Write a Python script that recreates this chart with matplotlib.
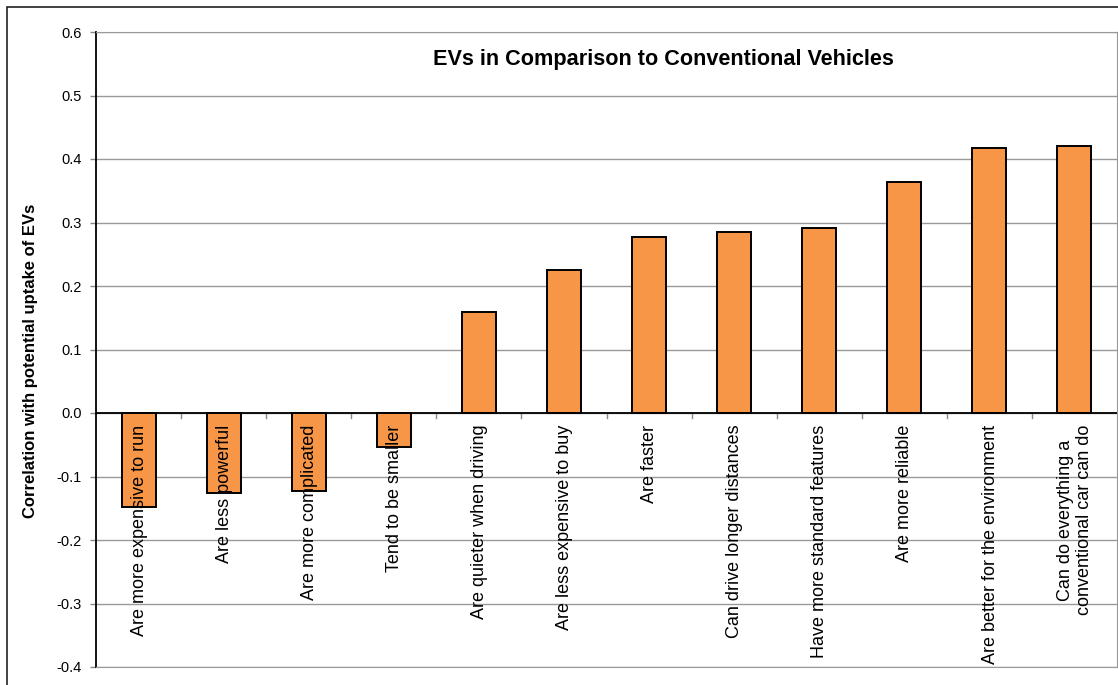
import matplotlib.pyplot as plt
from matplotlib.patches import Rectangle

plt.rcParams['font.family'] = ['Liberation Sans', 'DejaVu Sans']

# Correlation of each EV attribute with potential uptake
attributes = [
    'Are more expensive to run',
    'Are less powerful',
    'Are more complicated',
    'Tend to be smaller',
    'Are quieter when driving',
    'Are less expensive to buy',
    'Are faster',
    'Can drive longer distances',
    'Have more standard features',
    'Are more reliable',
    'Are better for the environment',
    'Can do everything a\nconventional car can do',
]
correlation = [-0.148, -0.126, -0.123, -0.054, 0.159, 0.225,
               0.277, 0.285, 0.291, 0.363, 0.418, 0.420]
y_ticks = [-0.4, -0.3, -0.2, -0.1, 0.0, 0.1, 0.2, 0.3, 0.4, 0.5, 0.6]

fig = plt.figure(figsize=(11.18, 6.85), dpi=100)
ax = fig.add_axes([96 / 1118, 18 / 685, 1021 / 1118, 635 / 685])

# outer chart frame (only left and top edges fall inside the image)
fig.patches.append(Rectangle((7 / 1118, -0.1), 1.2, (685 - 7) / 685 + 0.1,
                             transform=fig.transFigure, fill=False,
                             edgecolor='#222222', linewidth=1.2, zorder=0))

x = list(range(len(attributes)))
ax.bar(x, correlation, width=0.4, color='#F79646', edgecolor='black',
       linewidth=1.4, zorder=3)

ax.set_xlim(-0.5, len(attributes) - 0.5)
ax.set_ylim(-0.4, 0.6)
ax.set_yticks(y_ticks)
ax.set_yticklabels([f'{v:.1f}' for v in y_ticks], fontsize=10.5)
ax.yaxis.grid(True, color='#999999', linewidth=1, zorder=0)
ax.tick_params(axis='y', length=4, width=1, color='#888888', pad=6)

# category separators hang from the zero line
ax.set_xticks([])
for b in range(1, len(attributes)):
    ax.plot([b - 0.5, b - 0.5], [0, -0.008], color='#888888', lw=1,
            clip_on=False, zorder=4)
ax.axhline(0, color='black', linewidth=1.3, zorder=4)

for side in ['top', 'right', 'bottom']:
    ax.spines[side].set_color('#999999')
ax.spines['left'].set_color('black')
ax.spines['left'].set_linewidth(1.3)

for i, name in enumerate(attributes):
    ax.annotate(name, xy=(i, 0), xytext=(0.5, -8.5), textcoords='offset points',
                rotation=90, ha='center', va='top', multialignment='center',
                fontsize=13, zorder=5)

fig.text(663 / 1118, 1 - 59 / 685, 'EVs in Comparison to Conventional Vehicles',
         ha='center', va='center', fontsize=15.6, fontweight='bold')
fig.text(31 / 1118, 1 - 361 / 685, 'Correlation with potential uptake of EVs',
         ha='center', va='center', rotation=90, fontsize=12, fontweight='bold')

fig.savefig('out.png', dpi=100)
